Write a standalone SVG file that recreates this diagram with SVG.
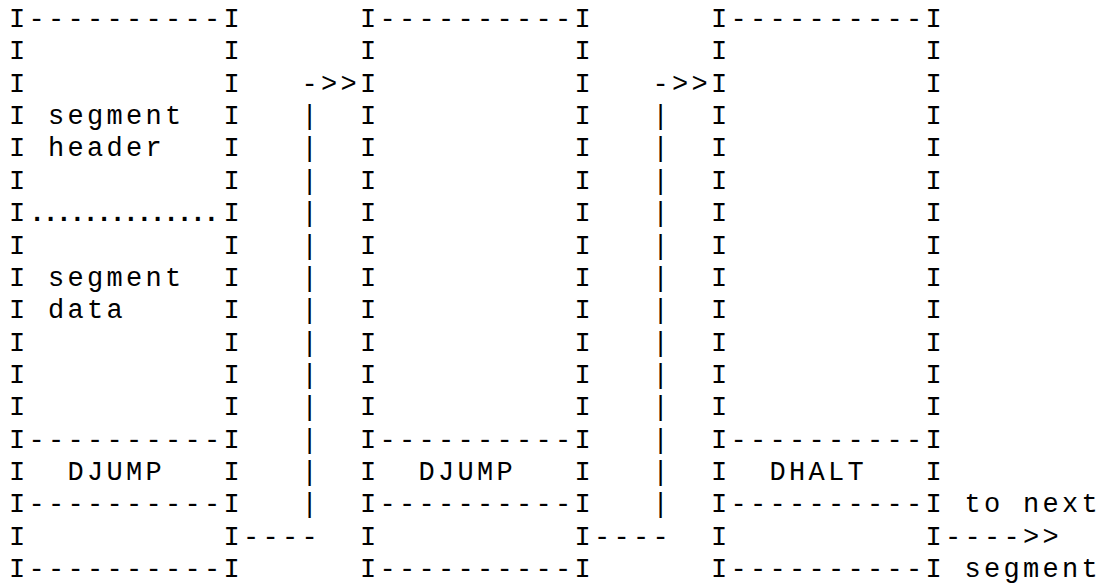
<svg xmlns="http://www.w3.org/2000/svg" width="1104" height="583" viewBox="0 0 1104 583" xml:space="preserve">
<style>
.t{font-family:"Liberation Mono","DejaVu Sans Mono",monospace;font-size:27px;letter-spacing:3.3px;fill:#000;white-space:pre}
.d{font-family:"Liberation Mono","DejaVu Sans Mono",monospace;font-size:27px;letter-spacing:-2.8px;fill:#000;font-weight:bold}
</style>
<rect width="1104" height="583" fill="#fff"/>
<g id="segment-1">
<text class="t" x="8.9" y="27">I----------I</text>
<text class="t" x="8.9" y="59.4">I          I</text>
<text class="t" x="8.9" y="91.7">I          I</text>
<text class="t" x="8.9" y="124.1">I segment  I</text>
<text class="t" x="8.9" y="156.4">I header   I</text>
<text class="t" x="8.9" y="188.8">I          I</text>
<text class="t" x="8.9" y="221.1">I</text>
<text class="d" x="29" y="221.1">..............</text>
<text class="t" x="223.4" y="221.1">I</text>
<text class="t" x="8.9" y="253.5">I          I</text>
<text class="t" x="8.9" y="285.8">I segment  I</text>
<text class="t" x="8.9" y="318.2">I data     I</text>
<text class="t" x="8.9" y="350.5">I          I</text>
<text class="t" x="8.9" y="382.9">I          I</text>
<text class="t" x="8.9" y="415.2">I          I</text>
<text class="t" x="8.9" y="447.6">I----------I</text>
<text class="t" x="8.9" y="479.9">I  DJUMP   I</text>
<text class="t" x="8.9" y="512.3">I----------I</text>
<text class="t" x="8.9" y="544.6">I          I</text>
<text class="t" x="8.9" y="577">I----------I</text>
</g>
<g id="segment-2">
<text class="t" x="359.9" y="27">I----------I</text>
<text class="t" x="359.9" y="59.4">I          I</text>
<text class="t" x="359.9" y="91.7">I          I</text>
<text class="t" x="359.9" y="124.1">I          I</text>
<text class="t" x="359.9" y="156.4">I          I</text>
<text class="t" x="359.9" y="188.8">I          I</text>
<text class="t" x="359.9" y="221.1">I          I</text>
<text class="t" x="359.9" y="253.5">I          I</text>
<text class="t" x="359.9" y="285.8">I          I</text>
<text class="t" x="359.9" y="318.2">I          I</text>
<text class="t" x="359.9" y="350.5">I          I</text>
<text class="t" x="359.9" y="382.9">I          I</text>
<text class="t" x="359.9" y="415.2">I          I</text>
<text class="t" x="359.9" y="447.6">I----------I</text>
<text class="t" x="359.9" y="479.9">I  DJUMP   I</text>
<text class="t" x="359.9" y="512.3">I----------I</text>
<text class="t" x="359.9" y="544.6">I          I</text>
<text class="t" x="359.9" y="577">I----------I</text>
</g>
<g id="segment-3">
<text class="t" x="710.9" y="27">I----------I</text>
<text class="t" x="710.9" y="59.4">I          I</text>
<text class="t" x="710.9" y="91.7">I          I</text>
<text class="t" x="710.9" y="124.1">I          I</text>
<text class="t" x="710.9" y="156.4">I          I</text>
<text class="t" x="710.9" y="188.8">I          I</text>
<text class="t" x="710.9" y="221.1">I          I</text>
<text class="t" x="710.9" y="253.5">I          I</text>
<text class="t" x="710.9" y="285.8">I          I</text>
<text class="t" x="710.9" y="318.2">I          I</text>
<text class="t" x="710.9" y="350.5">I          I</text>
<text class="t" x="710.9" y="382.9">I          I</text>
<text class="t" x="710.9" y="415.2">I          I</text>
<text class="t" x="710.9" y="447.6">I----------I</text>
<text class="t" x="710.9" y="479.9">I  DHALT   I</text>
<text class="t" x="710.9" y="512.3">I----------I</text>
<text class="t" x="710.9" y="544.6">I          I</text>
<text class="t" x="710.9" y="577">I----------I</text>
</g>
<g id="next-segment">
<text class="t" x="964.4" y="512.3">to next</text>
<text class="t" x="964.4" y="577">segment</text>
</g>
<g id="connectors">
<g id="link-1-2">
<text class="t" x="301.4" y="91.7">-&gt;&gt;</text>
<text class="t" x="301.4" y="124.1">|</text>
<text class="t" x="301.4" y="156.4">|</text>
<text class="t" x="301.4" y="188.8">|</text>
<text class="t" x="301.4" y="221.1">|</text>
<text class="t" x="301.4" y="253.5">|</text>
<text class="t" x="301.4" y="285.8">|</text>
<text class="t" x="301.4" y="318.2">|</text>
<text class="t" x="301.4" y="350.5">|</text>
<text class="t" x="301.4" y="382.9">|</text>
<text class="t" x="301.4" y="415.2">|</text>
<text class="t" x="301.4" y="447.6">|</text>
<text class="t" x="301.4" y="479.9">|</text>
<text class="t" x="301.4" y="512.3">|</text>
<text class="t" x="242.9" y="544.6">----</text>
</g>
<g id="link-2-3">
<text class="t" x="652.4" y="91.7">-&gt;&gt;</text>
<text class="t" x="652.4" y="124.1">|</text>
<text class="t" x="652.4" y="156.4">|</text>
<text class="t" x="652.4" y="188.8">|</text>
<text class="t" x="652.4" y="221.1">|</text>
<text class="t" x="652.4" y="253.5">|</text>
<text class="t" x="652.4" y="285.8">|</text>
<text class="t" x="652.4" y="318.2">|</text>
<text class="t" x="652.4" y="350.5">|</text>
<text class="t" x="652.4" y="382.9">|</text>
<text class="t" x="652.4" y="415.2">|</text>
<text class="t" x="652.4" y="447.6">|</text>
<text class="t" x="652.4" y="479.9">|</text>
<text class="t" x="652.4" y="512.3">|</text>
<text class="t" x="593.9" y="544.6">----</text>
</g>
<g id="link-3-next">
<text class="t" x="944.9" y="544.6">----&gt;&gt;</text>
</g>
</g>
</svg>
